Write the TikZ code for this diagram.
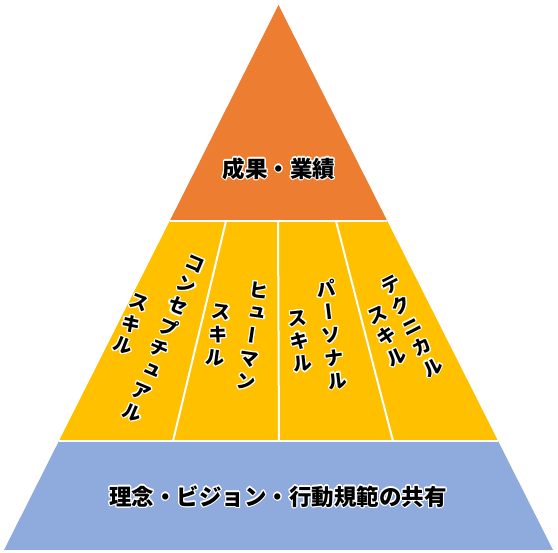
\documentclass[tikz,border=0pt]{standalone}
\usepackage{fontspec}
\usepackage{contour}
\usetikzlibrary{calc}
\newfontfamily\jpfont{Noto Sans CJK JP}
\newfontfamily\jpvfont{Noto Sans CJK JP}[RawFeature=+vert]
\definecolor{pyorange}{RGB}{237,125,49}
\definecolor{pyyellow}{RGB}{255,192,0}
\definecolor{pyblue}{RGB}{143,170,220}
\contourlength{1.1pt}
\newcommand{\glow}[1]{\contour{white}{#1}}
\newcommand{\tate}[1]{\glow{\begin{tabular}{@{}c@{}}#1\end{tabular}}}
\tikzset{
    layer/.style={fill=#1, draw=none},
    gap/.style={draw=white, line width=2pt},
    flattext/.style={font=\jpfont\bfseries\fontsize{22.5}{26}\selectfont, inner sep=0pt},
    tatetext/.style={font=\jpvfont\bfseries\fontsize{19.5}{23}\selectfont, inner sep=0pt, rotate=#1}
}

\begin{document}
\begin{tikzpicture}[x=1pt, y=-1pt]
    \useasboundingbox (0,0) rectangle (558,553);
    \coordinate (apex) at (278.5,5);
    \coordinate (bl) at (4,550);
    \coordinate (br) at (553,550);
    \coordinate (l1) at ($(apex)!0.3963!(bl)$);
    \coordinate (r1) at ($(apex)!0.3963!(br)$);
    \coordinate (l2) at ($(apex)!0.8!(bl)$);
    \coordinate (r2) at ($(apex)!0.8!(br)$);
    \coordinate (d1t) at (226,221);
    \coordinate (d1b) at (173,441);
    \coordinate (d2t) at (278,221);
    \coordinate (d2b) at (279,441);
    \coordinate (d3t) at (336,221);
    \coordinate (d3b) at (393,441);

    \fill [layer=pyorange] (apex) -- (r1) -- (l1) -- cycle;
    \fill [layer=pyyellow] (l1) -- (r1) -- (r2) -- (l2) -- cycle;
    \fill [layer=pyblue] (l2) -- (r2) -- (br) -- (bl) -- cycle;
    \draw [gap] (l1) -- (r1);
    \draw [gap] (l2) -- (r2);
    \draw [gap] (d1t) -- (d1b);
    \draw [gap] (d2t) -- (d2b);
    \draw [gap] (d3t) -- (d3b);

    \node (result) [flattext] at (279,169) {\glow{成果・業績}};
    \node (vision) [flattext] at (278,497) {\glow{理念・ビジョン・行動規範の共有}};

    \node (concept) [tatetext=-23] at (163,341) {\tate{コ\\ン\\セ\\プ\\チ\\ュ\\ア\\ル}};
    \node (conceptskill) [tatetext=-21] at (130,327) {\tate{ス\\キ\\ル}};
    \node (human) [tatetext=-8] at (252,339) {\tate{ヒ\\ュ\\ー\\マ\\ン}};
    \node (humanskill) [tatetext=-8] at (218,338) {\tate{ス\\キ\\ル}};
    \node (personal) [tatetext=7] at (332,338) {\tate{パ\\ー\\ソ\\ナ\\ル}};
    \node (personalskill) [tatetext=6] at (300,344) {\tate{ス\\キ\\ル}};
    \node (technical) [tatetext=27] at (413,329) {\tate{テ\\ク\\ニ\\カ\\ル}};
    \node (technicalskill) [tatetext=24] at (388,339) {\tate{ス\\キ\\ル}};
\end{tikzpicture}
\end{document}
